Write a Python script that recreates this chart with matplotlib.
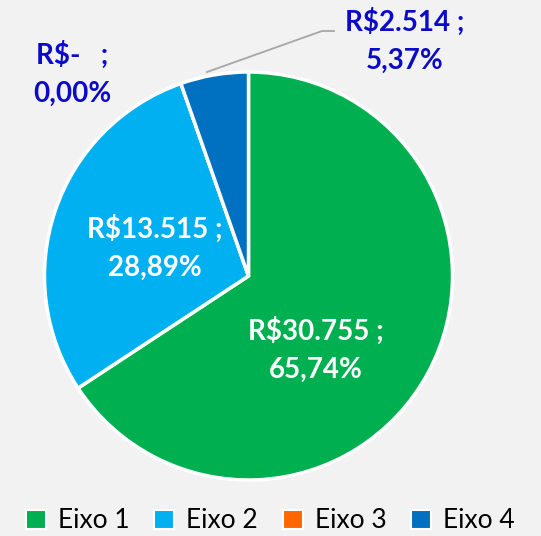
import matplotlib
matplotlib.use('Agg')
import matplotlib.pyplot as plt
from matplotlib.patches import Patch

# Data
categories = ['Eixo 1', 'Eixo 2', 'Eixo 3', 'Eixo 4']
values = [30755, 13515, 0, 2514]
value_labels = ['R$30.755 ;', 'R$13.515 ;', 'R$-   ;', 'R$2.514 ;']
pct_labels = ['65,74%', '28,89%', '0,00%', '5,37%']
colors = ['#00B050', '#00B0F0', '#FF6600', '#0070C0']

bg = '#F2F2F2'
label_blue = '#0A0AC8'
plt.rcParams['font.family'] = ['Lato', 'DejaVu Sans']

W, H = 541, 536
fig = plt.figure(figsize=(W / 100, H / 100), dpi=100, facecolor=bg)
ax = fig.add_axes([0, 0, 1, 1])
ax.set_facecolor(bg)

cx, cy, r = 248.5, H - 276, 204
wedges, _ = ax.pie(values, colors=colors, startangle=90, counterclock=False,
                   center=(cx, cy), radius=r,
                   wedgeprops=dict(edgecolor='white', linewidth=2.5))
ax.set_xlim(0, W)
ax.set_ylim(0, H)
ax.set_aspect('equal')
ax.axis('off')

# label positions in pixels (from top-left), text colours
label_pos = [(316, 350), (155, 248), (72, 74), (405, 41)]
label_col = ['white', 'white', label_blue, label_blue]
for i in range(len(categories)):
    x, y = label_pos[i]
    ax.text(x, H - y, value_labels[i] + '\n' + pct_labels[i], color=label_col[i],
            fontsize=20, fontweight='bold', ha='center', va='center',
            linespacing=1.55)

# leader line for Eixo 4
ax.plot([207, 322, 334], [H - 72, H - 31, H - 31], color='#A6A6A6', lw=1.3)

handles = [Patch(facecolor=c, edgecolor='white', linewidth=1.5) for c in colors]
fig.legend(handles, categories, loc='center', ncol=4, frameon=False,
           fontsize=19, bbox_to_anchor=(0.5, (H - 521) / H), handlelength=0.75,
           handleheight=0.75, handletextpad=0.45, columnspacing=0.95,
           borderaxespad=0)

fig.savefig('out.png', dpi=100, facecolor=bg)
